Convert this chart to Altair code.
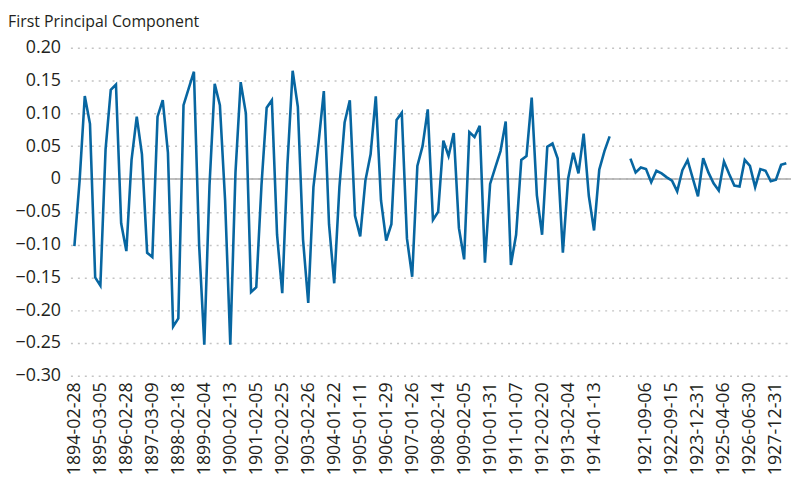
import altair as alt
import pandas as pd

# Tick labels (dates) and their category positions
tick_labels = ["1894-02-28", "1895-03-05", "1896-02-28", "1897-03-09", "1898-02-18",
               "1899-02-04", "1900-02-13", "1901-02-05", "1902-02-25", "1903-02-26",
               "1904-01-22", "1905-01-11", "1906-01-29", "1907-01-26", "1908-02-14",
               "1909-02-05", "1910-01-31", "1911-01-07", "1912-02-20", "1913-02-04",
               "1914-01-13", "1921-09-06", "1922-09-15", "1923-12-31", "1925-04-06",
               "1926-06-30", "1927-12-31"]
tick_pos = [0, 5, 10, 15, 20, 25, 30, 35, 40, 45, 50, 55, 60, 65, 70, 75, 80, 85, 90,
            95, 100, 110, 115, 120, 125, 130, 135]
y_ticks = [-0.30, -0.25, -0.20, -0.15, -0.10, -0.05, 0, 0.05, 0.10, 0.15, 0.20]

# First principal component, pre-war observations (positions 0..103)
seg1_values = [-0.1025, -0.003, 0.1265, 0.084, -0.15, -0.1625, 0.045, 0.136, 0.144, -0.0675,
               -0.11, 0.029, 0.095, 0.0375, -0.1125, -0.119, 0.095, 0.12, 0.04, -0.225,
               -0.2125, 0.1125, 0.138, 0.1635, -0.10, -0.2525, -0.01, 0.145, 0.1125, -0.0325,
               -0.2525, 0.01, 0.1475, 0.10, -0.1725, -0.165, -0.01, 0.1085, 0.12, -0.085,
               -0.174, 0.0225, 0.165, 0.11, -0.0925, -0.189, -0.0125, 0.056, 0.134, -0.069,
               -0.159, -0.0125, 0.086, 0.12, -0.056, -0.0875, -0.0025, 0.0375, 0.126, -0.0325,
               -0.094, -0.069, 0.09, 0.101, -0.091, -0.149, 0.02, 0.05, 0.106, -0.0625,
               -0.05, 0.0585, 0.035, 0.07, -0.075, -0.1225, 0.0715, 0.064, 0.081, -0.1275,
               -0.0075, 0.0175, 0.0425, 0.0875, -0.131, -0.085, 0.029, 0.035, 0.124, -0.025,
               -0.085, 0.049, 0.054, 0.031, -0.1125, 0.0, 0.04, 0.0085, 0.069, -0.026,
               -0.0785, 0.014, 0.0425, 0.065]
seg1_start = 0

# Post-war observations (positions 107..137)
seg2_values = [0.031, 0.010, 0.0175, 0.015, -0.005, 0.0125, 0.0085, 0.0025, -0.0025, -0.019,
               0.0135, 0.0285, 0.001, -0.0265, 0.0315, 0.010, -0.0065, -0.0175, 0.0265, 0.0075,
               -0.010, -0.0115, 0.029, 0.020, -0.0125, 0.015, 0.0125, -0.0035, -0.001, 0.0215,
               0.024]
seg2_start = 107

rows = []
for i, v in enumerate(seg1_values):
    rows.append({"pos": seg1_start + i, "value": v, "segment": "pre"})
for i, v in enumerate(seg2_values):
    rows.append({"pos": seg2_start + i, "value": v, "segment": "post"})
df = pd.DataFrame(rows)

FONT = "Open Sans"
TXT = "#231f20"

label_expr = "[" + ",".join("'%s'" % s for s in tick_labels) + "][indexof([" + \
    ",".join(str(p) for p in tick_pos) + "], datum.value)]"

x = alt.X("pos:Q",
          scale=alt.Scale(domain=[-0.76, 137.9], nice=False, zero=False),
          axis=alt.Axis(values=tick_pos, labelExpr=label_expr, labelAngle=-90,
                        grid=False, ticks=False, domain=False, title=None,
                        labelFont=FONT, labelFontSize=18, labelColor=TXT,
                        labelPadding=6, labelOverlap=False, labelFlush=False))
y_axis = alt.Axis(values=y_ticks,
                  labelExpr="datum.value == 0 ? '0' : format(datum.value, '.2f')",
                  grid=True, gridDash=[2, 5], gridColor="#c4c4c4", gridWidth=1.5,
                  ticks=False, domain=False, title=None,
                  labelFont=FONT, labelFontSize=18, labelColor=TXT,
                  labelPadding=10, labelOverlap=False, labelFlush=False)
y_scale = alt.Scale(domain=[-0.30, 0.20], nice=False, zero=False)
y = alt.Y("value:Q", scale=y_scale, axis=y_axis)

line = alt.Chart(df).mark_line(color="#0766a1", strokeWidth=2.6).encode(
    x=x, y=y, detail="segment:N")

zero = alt.Chart(pd.DataFrame({"value": [0.0]})).mark_rule(
    color="#aaaaaa", strokeWidth=1.5).encode(y=alt.Y("value:Q", scale=y_scale, axis=y_axis))

chart = alt.layer(zero, line).properties(
    width=727, height=331,
    autosize="none",
    padding={"left": 63, "top": 38, "right": 0, "bottom": 98},
    title=alt.Title("First Principal Component", anchor="start", frame="group", dx=-63,
                    offset=9, font=FONT, fontSize=16, fontWeight="normal", color=TXT),
).configure_view(stroke=None)

chart.save("out.html", embed_options={"renderer": "svg", "actions": False})
